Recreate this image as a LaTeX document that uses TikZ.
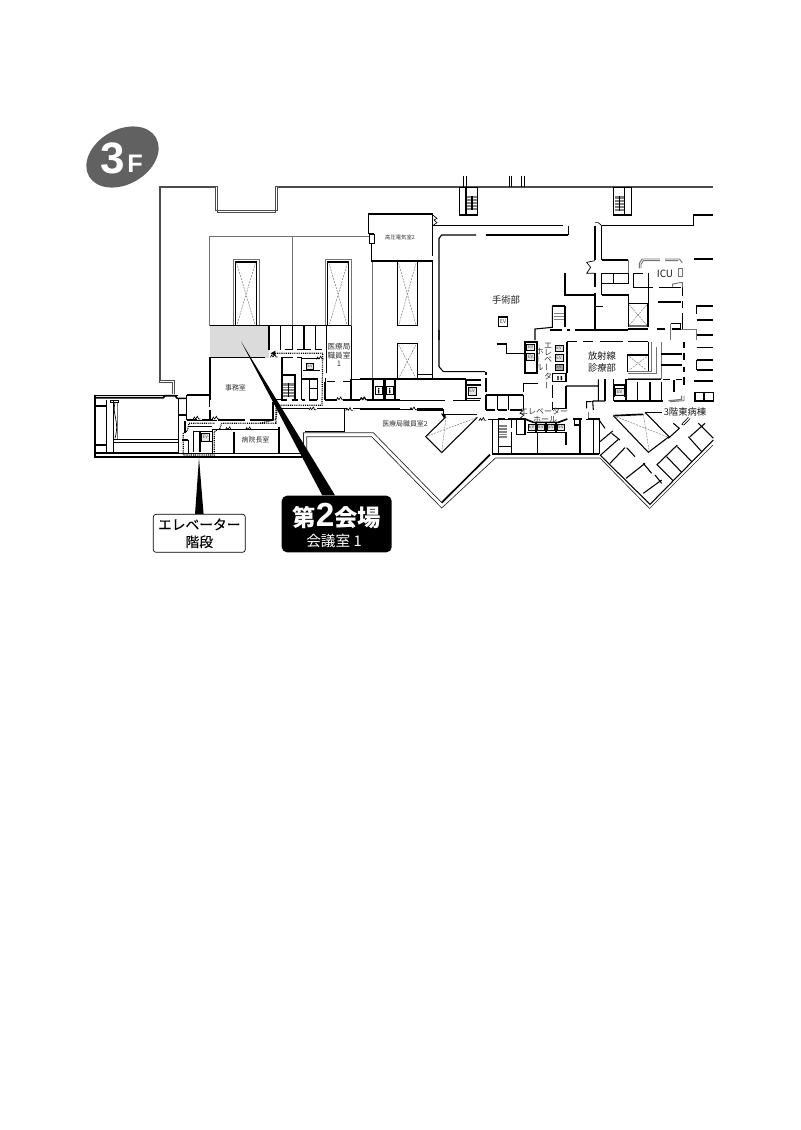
\documentclass[tikz,border=0pt]{standalone}
\usepackage{fontspec}
\setmainfont{Noto Sans CJK JP}
\newfontfamily\latinbold{Liberation Sans}[BoldFont={Liberation Sans Bold}]
\newfontfamily\medium{Noto Sans CJK JP}[FakeBold=0.35]
\usetikzlibrary{positioning,shapes.geometric,calc}
\newcommand{\tatebar}{\rotatebox[origin=c]{90}{ー}}
\newcommand{\stairrun}[4]{
    \fill[stairs] (#1,#2) rectangle (#3,#4);
    \foreach \t in {.2,.4,.6,.8}
        \draw[white, line width=0.3pt] ($(#1,#2)!\t!(#1,#4)$) -- ($(#3,#2)!\t!(#3,#4)$);
}
\tikzset{
    area/.style 2 args = {shift={(#1,#2)}, x=0.25pt, y=-0.25pt},
    outerwall/.style = {draw=black!70, line width=0.5pt},
    wingwall/.style = {draw=black!85, line width=0.5pt},
    wall/.style = {draw=black, line width=0.8pt},
    heavy/.style = {draw=black, line width=1.25pt},
    thinwall/.style = {draw=black, line width=0.5pt},
    gline/.style = {draw=black!55, line width=0.7pt},
    xline/.style = {draw=black!55, line width=0.35pt, dash pattern=on 1.5pt off 0.8pt},
    route/.style = {draw=black, line width=0.9pt, dash pattern=on 0.7pt off 0.7pt},
    roomtext/.style = {text=black!80, font=\fontsize{5.2pt}{6pt}\selectfont, inner sep=0pt, align=center},
    bigroom/.style = {text=black!90, font=\fontsize{7pt}{8.6pt}\selectfont, inner sep=0pt, align=center},
    evbox/.style = {draw=black, line width=0.5pt, fill=black!10, text=black!70, inner sep=0pt,
        minimum width=6.2pt, minimum height=5pt, font=\fontsize{3.4pt}{4pt}\selectfont},
    door/.pic = {\draw[thinwall] (-11,0) -- (-7,-7) -- (-3,-1) -- (2,-9) -- (6,-1) -- (11,-1);},
    stairs/.style = {fill=black!50, draw=none}
}
\begin{document}
\begin{tikzpicture}[x=0.75pt, y=-0.75pt]
    \useasboundingbox (0,0) rectangle (800,1130);

    % floor badge
    \node [ellipse, fill=black!62, inner sep=0pt,
        minimum width=58pt, minimum height=41pt, rotate=30] (badge) at (122.5,157) {};
    \node [text=white, inner sep=0pt, font=\latinbold\bfseries\fontsize{33pt}{33pt}\selectfont] (three) at (112.5,158) {3};
    \node [text=white, inner sep=0pt, font=\latinbold\bfseries\fontsize{19pt}{19pt}\selectfont] (floorf) at (135,164) {F};

    % gray room
    \fill[black!14] (210,326) rectangle (268.5,357.5);

    % outer walls
    \draw[outerwall] (172,394) -- (172,382.5) -- (159,382.5) -- (159,186) -- (217.5,186) -- (217.5,212.5)
        -- (275.5,212.5) -- (275.5,186) -- (713,186);
    \draw[outerwall] (174,394) -- (174,380.8) -- (160.8,380.8) -- (160.8,187.8) -- (215.8,187.8) -- (215.8,210.8)
        -- (277.2,210.8) -- (277.2,187.8) -- (713,187.8);
    \draw[wingwall] (303.5,453) -- (303.5,432.7) -- (373.3,432.7) -- (441.7,502.7);
    \draw[wingwall] (306.7,453) -- (306.7,436.7) -- (371.7,436.7) -- (441.7,508) -- (495.5,458) -- (600,458)
        -- (649.5,508.5) -- (713,445);

    \begin{scope}[area={80}{120}]
        \draw[gline] (388,617) -- (388,348) -- (868,348);
        \draw[gline] (637,348) -- (637,617);
        \draw[gline] (459,617) -- (459,417) -- (538,417) -- (538,617);
        \draw[gline] (735,617) -- (735,417) -- (814,417) -- (814,617);
        \draw[wall] (466,617) -- (466,426) -- (530,426) -- (530,617);
        \draw[wall] (743,617) -- (743,426) -- (806,426) -- (806,617);
        \draw[xline] (470,430) -- (526,617) (526,430) -- (470,617);
        \draw[xline] (747,430) -- (802,617) (802,430) -- (747,617);
    \end{scope}

    \begin{scope}[area={80}{320}]
        \draw[wall] (390,17) -- (814,17);
        % stalls
        \foreach \sx in {567,602,637,672,706} {\draw[wall] (\sx,17) -- (\sx,90);}
        \draw[wall] (614,88) -- (637,88) (652,88) -- (692,88) (706,88) -- (727,88);
        \draw[wall] (390,112) -- (555,112);
        \draw[wall] (814,17) -- (814,178);
        % left block
        \draw[thinwall] (45,225) -- (295,225);
        \draw[heavy] (45,233) -- (250,233) -- (255,227) -- (285,227) -- (292,235) -- (320,235);
        \draw[wall] (45,225) -- (45,411) -- (665,411);
        \draw[heavy] (45,398) -- (295,398);
        \draw[thinwall] (295,400) -- (665,400);
        \draw[wall] (45,258) -- (80,258) (45,375) -- (80,375);
        \draw[wall] (80,240) -- (80,398) (100,240) -- (100,398) (295,235) -- (295,398);
        \draw[thinwall] (92,240) rectangle (115,248);
        \draw[thinwall] (105,248) .. controls (95,285) and (120,300) .. (105,355);
        \draw[gline] (113,248) -- (113,358) -- (100,358);
        \draw[thinwall] (100,358) -- (295,358) (100,368) -- (295,368);
        \draw[wall] (295,285) -- (320,285) (320,225) -- (388,225) (320,225) -- (320,300);
        \draw[wall] (388,225) -- (388,262);
        \draw[wall] (390,112) -- (390,240) (390,270) -- (390,300);
        \draw[wall] (320,300) -- (350,300) (365,300) -- (398,300) (415,300) -- (495,300) (510,300) -- (578,300);
        \draw[heavy] (578,245) -- (578,300);
        \draw[wall] (584,238) -- (606,238) (606,112) -- (606,238);
        % corridor
        \draw[wall] (597,265) -- (688,265) (712,265) -- (800,265) (820,265) -- (960,265);
        \draw[thinwall] (793,265) -- (793,335) -- (675,335);
        \draw[wall] (814,178) -- (960,178);
        \draw[wall] (735,240) -- (770,240) (790,240) -- (840,240) (860,240) -- (960,240);
        \draw[wall] (735,185) -- (735,240);
        \draw[wall] (740,185) -- (765,185) (790,185) -- (812,185);
        \draw[wall] (880,178) -- (880,240) (912,178) -- (912,240) (945,178) -- (945,240);
        \draw[gline] (878,0) -- (878,178);
        \draw[wall] (597,320) -- (597,400);
        \draw[wall] (462,335) -- (462,398);
        \path (350,298) pic {door} (407,298) pic {door} (447,330) pic {door} (507,330) pic {door}
            (698,270) pic {door} (808,272) pic {door} (780,240) pic {door} (850,240) pic {door};
    \end{scope}

    \begin{scope}[area={175}{390}]
        \draw[wall] (35,92) -- (125,92) (115,118) -- (315,118);
        \draw[wall] (40,110) -- (110,110) (55,125) -- (55,185) (55,125) -- (110,125) (75,125) -- (75,185);
        \draw[wall] (75,155) -- (110,155) (40,150) -- (40,188) (20,150) -- (40,150) (113,118) -- (113,188);
        \draw[wall] (30,92) -- (30,130);
        \node[evbox, minimum width=6pt, minimum height=5.5pt] (evwest) at (91,142) {EV};
        \draw[route] (303,55) -- (303,100) -- (140,100) (118,100) -- (42,100) -- (37,122) -- (25,130) -- (25,195)
            -- (118,195) -- (118,125) -- (135,115) -- (140,100);
    \end{scope}

    \begin{scope}[area={260}{320}]
        \draw[wall] (62,112) -- (100,112) (112,112) -- (125,112);
        \draw[wall] (65,165) -- (105,165) -- (105,240);
        \draw[wall] (125,115) -- (125,240) (125,115) -- (180,115) (128,152) -- (180,152) (125,177) -- (175,177);
        \draw[wall] (148,177) -- (148,240) (148,205) -- (175,205) (172,177) -- (172,240);
        \stairrun{68}{190}{102}{230}
        \draw[wall] (85,190) -- (85,232);
        \draw[wall] (62,240) -- (80,240) (95,240) -- (115,240) (125,240) -- (135,240) (148,240) -- (172,240);
        \node[evbox, minimum width=5.6pt, minimum height=4.5pt] (evstall) at (150,138) {EV};
        \draw[wall] (200,18) -- (200,160) (197,175) -- (197,242) (197,242) -- (232,242) (250,242) -- (273,242);
        \draw[wall] (273,178) -- (273,242);
        \draw[route] (45,100) -- (188,100) -- (186,256) -- (52,256) -- (48,298) -- (0,310);
        \fill (32,100) -- (46,92) -- (46,108) -- cycle;
        \path (42,112) pic {door} (180,118) pic {door};
    \end{scope}

    \begin{scope}[area={360}{170}]
        \foreach \wx in {309,320,447,455,484,492} {\draw[thinwall] (\wx,17) -- (\wx,50);}
        \draw[wall] (298,52) rectangle (352,135);
        \draw[wall] (318,52) -- (318,135);
        \stairrun{322}{77}{352}{120}
        \draw[wall] (336,77) -- (336,120);
        \draw[wall] (218,132) -- (25,132) -- (25,192) (43,192) -- (43,220) -- (28,220) -- (28,192) -- (43,192);
        \draw[wall] (34,220) -- (34,273);
        \draw[heavy] (34,273) -- (218,273);
        \draw[wall] (218,132) -- (218,258);
        \draw[thinwall] (218,135) -- (231,145) -- (222,150) -- (231,158) -- (218,167);
        \draw[wall] (218,167) -- (610,167);
        \draw[wall] (348,195) -- (245,195) -- (237,205) -- (237,510);
        \draw[wall] (377,195) -- (624,195);
        \draw[gline] (38,276) -- (38,510);
        \draw[wall] (218,276) -- (218,510);
        \draw[wall] (112,467) -- (112,276) (172,276) -- (172,467) (112,467) -- (172,467);
        \draw[xline] (116,280) -- (168,465) (168,280) -- (116,465);
        \draw[wall] (416,441) rectangle (442,469);
        \node[text=black!75, font=\fontsize{4pt}{4pt}\selectfont, inner sep=0pt] (evope) at (429,455) {EV};
        \draw[wall] (577,407) -- (600,407) (577,407) -- (577,472) -- (525,477) -- (525,510);
    \end{scope}

    \begin{scope}[area={550}{170}]
        \draw[wall] (190,52) rectangle (245,135);
        \draw[wall] (223,52) -- (223,135);
        \stairrun{195}{78}{222}{122}
        \draw[wall] (208,78) -- (208,122);
        \draw[wall] (55,167) -- (55,195);
        \draw[wall] (155,167) -- (430,167) -- (430,135) -- (490,135);
        \draw[wall] (135,167) -- (135,270) (155,167) -- (155,270);
        \draw[thinwall] (135,158) -- (145,158) -- (155,167);
        \draw[wall] (155,270) -- (235,270);
        \draw[thinwall] (135,272) -- (110,277) -- (122,292) -- (110,310) -- (135,310);
        \draw[wall] (135,310) -- (135,350) (135,370) -- (135,478);
        \draw[gline] (235,270) -- (235,310);
        \draw[wall] (155,310) rectangle (235,340);
        \draw[wall] (190,310) -- (190,340) (155,340) -- (155,375);
        \draw[wall] (250,310) -- (250,352) -- (310,352) (250,310) -- (278,310) (295,310) -- (295,400);
        \draw[wall] (45,310) -- (45,375) -- (135,375) (155,375) -- (235,375) -- (235,470);
        \draw[wall] (137,410) -- (158,410) (137,410) -- (137,480);
        \draw[wall] (234,400) -- (294,400) (294,400) -- (294,470) (234,470) -- (294,470);
        \fill[black!55] (236,465) rectangle (292,472);
        \draw[xline] (238,405) -- (290,465) (290,405) -- (238,465);
        \draw[wall] (50,480) -- (60,480) (75,480) -- (235,480) (235,477) -- (295,477) (320,477) -- (345,477);
        \draw[wall] (328,353) -- (392,353) (325,396) -- (392,396);
        \draw[wall] (397,352) -- (397,378) (397,392) -- (397,415) (397,430) -- (397,480);
        \draw[wall] (362,460) -- (392,460) (392,460) -- (392,477) (365,477) -- (392,477);
        \draw[gline] (268,295) -- (268,280) -- (276,267) -- (330,267);
        \draw[gline] (273,295) -- (273,283) -- (280,272) -- (330,272);
        \draw[gline] (345,267) -- (388,267) -- (397,278) (345,272) -- (385,272);
        \draw[gline] (385,295) rectangle (397,320);
        \draw[gline] (368,350) -- (368,342) -- (390,338) -- (397,338) -- (397,352);
        \draw[gline] (362,462) -- (362,510) (392,477) -- (440,477) -- (440,510);
        \draw[wall] (432,267) -- (490,267);
        \draw[wall] (490,408) -- (440,408) -- (440,432) (440,450) -- (490,450) (440,495) -- (490,495);
        % stair beside the theatre
        \draw[wall] (8,408) -- (45,408) (45,408) -- (45,470) (8,408) -- (8,470);
        \stairrun{12}{428}{42}{450}
        \draw[wall] (0,480) -- (35,480);
    \end{scope}

    \begin{scope}[area={360}{330}]
        \draw[wall] (112,147) -- (112,40) -- (172,40) -- (172,147);
        \draw[xline] (116,44) -- (168,145) (168,44) -- (116,145);
        \draw[thinwall] (172,133) -- (218,133);
        \draw[wall] (218,0) -- (218,147);
        \draw[wall] (237,0) -- (237,110) -- (250,125) -- (375,125);
        \draw[wall] (0,147) -- (318,147);
        \draw[wall] (38,147) -- (38,212) (72,147) -- (72,212) (75,147) -- (75,212) (103,147) -- (103,212);
        \draw[wall] (318,147) -- (318,212);
        \draw[wall] (322,165) -- (362,165) (322,205) -- (362,205);
        \draw[wall] (103,212) -- (255,212) (280,212) -- (360,212);
        \draw[wall] (322,150) -- (362,150);
        \draw[wall] (0,238) -- (155,238) (172,240) -- (250,240) -- (250,253);
        \draw[wall] (250,253) -- (350,253) (385,268) -- (470,268);
        \draw[thinwall] (172,235) -- (250,235);
        \fill (243,250) -- (258,254) -- (252,265) -- cycle;
        \draw[wall] (258,260) -- (197,320) -- (245,368) -- (352,262);
        \draw[xline] (197,320) -- (352,262) (245,368) -- (258,262);
        \draw[heavy] (245,518) -- (390,374);
        \path (160,240) pic {door} (368,272) pic {door} (12,210) pic {door};
        \node[evbox, minimum width=6pt, minimum height=5.4pt] (evsouth) at (336,184) {EV};
        \node[draw=black, line width=0.4pt, inner sep=0pt, minimum width=5.5pt, minimum height=6pt] (wca) at (56,182) {};
        \node[draw=black, line width=0.4pt, inner sep=0pt, minimum width=5.5pt, minimum height=6pt] (wcb) at (89,182) {};
        \fill (56,176) circle (2.5) (89,176) circle (2.5);
        \fill (54,179) rectangle (58,190) (87,179) rectangle (91,190);
        \draw[wall] (378,125) -- (378,135) (378,145) -- (378,185) (378,195) -- (378,240);
        \draw[wall] (378,195) -- (490,195) (412,195) -- (412,240) (445,195) -- (445,240) (490,195) -- (490,240);
        \draw[wall] (378,240) -- (405,240) (415,240) -- (440,240) (450,240) -- (485,240);
        \draw[wall] (410,42) -- (440,42) -- (440,70) -- (495,70);
        \draw[heavy] (495,35) rectangle (530,128);
        \node[evbox, minimum width=6pt, minimum height=5pt] (evnw) at (512,52) {EV};
        \node[evbox, minimum width=6pt, minimum height=5pt] (evnx) at (512,80) {EV};
        \draw[wall] (490,160) -- (535,160) (490,160) -- (490,185);
    \end{scope}

    \begin{scope}[area={480}{395}]
        \draw[wall] (38,72) -- (38,180) (55,72) -- (55,180) (55,72) -- (75,72) (85,72) -- (108,72);
        \stairrun{58}{90}{82}{130}
        \draw[wall] (95,72) -- (95,100) (95,110) -- (95,178);
        \draw[wall] (55,155) -- (95,155);
        \draw[wall] (110,72) rectangle (135,118);
        \draw[heavy] (135,72) -- (160,82) -- (235,82) -- (262,72);
        \draw[heavy] (140,112) -- (258,112);
        \foreach \ex in {168,198,228} {\draw[wall] (\ex,82) -- (\ex,112);}
        \node[evbox, minimum width=5.5pt, minimum height=5pt] (evha) at (155,97) {EV};
        \node[evbox, minimum width=5.5pt, minimum height=5pt] (evhb) at (183,97) {EV};
        \node[evbox, minimum width=5.5pt, minimum height=5pt] (evhc) at (213,97) {EV};
        \node[evbox, minimum width=5.5pt, minimum height=5pt] (evhd) at (243,97) {EV};
        \draw[wall] (172,112) -- (172,178) (258,112) -- (258,150);
        \draw[wall] (280,72) -- (305,72) (283,72) -- (283,90) -- (300,90) (300,72) -- (300,178);
        \draw[gline] (325,50) -- (325,72);
        \draw[wall] (325,72) -- (360,72);
        \draw[heavy] (340,72) -- (340,178);
        \draw[wall] (358,72) -- (358,178);
        \draw[wall] (38,177) -- (358,177);
        \draw[thinwall] (130,45) -- (120,55) -- (132,60) -- (120,70);
    \end{scope}

    \begin{scope}[area={550}{330}]
        \draw[heavy] (50,35) -- (50,130);
        \draw[wall] (50,35) -- (80,35) (100,35) -- (130,35) (150,35) -- (220,35) (235,35) -- (295,35);
        \node[evbox, minimum width=6pt, minimum height=5pt] (evea) at (27,55) {EV};
        \node[evbox, minimum width=6pt, minimum height=5pt] (eveb) at (27,84) {EV};
        \node[evbox, minimum width=6pt, minimum height=5pt, fill=black!35] (evec) at (27,112) {EV};
        \draw[wall] (8,130) rectangle (48,155);
        \fill (22,138) rectangle (26,150) (32,138) rectangle (36,150);
        \draw[wall] (8,165) -- (8,205) (8,215) -- (8,240) (48,168) -- (48,235) -- (10,235);
        \draw[wall] (48,168) -- (145,168) (145,148) -- (145,210) (128,213) -- (165,213) (128,213) -- (130,240);
        \draw[wall] (295,35) -- (295,75);
        \draw[wall] (233,75) rectangle (295,125);
        \draw[xline] (238,80) -- (290,120) (290,80) -- (238,120);
        \draw[gline] (333,35) -- (333,145) -- (235,145) (320,50) -- (320,130) -- (235,130) (305,35) -- (305,125) -- (235,125);
        \draw[heavy] (228,148) -- (333,148);
        \draw[wall] (333,72) -- (395,72) (333,105) -- (395,105) (340,148) -- (360,148) (378,148) -- (395,148);
        \draw[wall] (402,35) -- (402,55) (402,70) -- (402,90) (402,110) -- (402,125) (402,140) -- (402,165);
        \draw[wall] (165,148) -- (165,213) (190,148) -- (190,213) (228,148) -- (228,213) (263,155) -- (263,213)
            (300,155) -- (300,213) (335,155) -- (335,213);
        \draw[wall] (193,213) -- (228,213) (228,213) -- (340,213);
        \draw[wall] (193,165) -- (225,165) (193,165) -- (193,200) (223,165) -- (223,200);
        \node[evbox, minimum width=6.4pt, minimum height=5.5pt] (evsw) at (209,185) {EV};
        \draw[wall] (372,150) -- (372,185);
        \draw[gline] (355,212) -- (395,208) -- (395,197) (360,215) -- (402,212) -- (402,197);
        \draw[wall] (440,15) -- (490,15) (440,52) -- (490,52) (440,90) -- (490,90) (440,90) -- (440,120) (440,120) -- (490,120);
        \draw[heavy] (432,152) -- (490,152);
        \draw[wall] (435,188) rectangle (490,213) (462,188) -- (462,213);
        \draw[thinwall] (395,283) -- (415,262) (402,285) -- (420,266) (395,283) -- (402,285);
    \end{scope}

    \begin{scope}[area={590}{395}]
        % wing rooms
        \draw[wall] (-10,40) -- (-10,20) -- (5,20) (25,72) -- (45,100) (65,115) -- (90,135) (110,158) -- (135,185)
            (160,205) -- (185,235) (195,240) -- (215,265);
        \draw[wall] (30,140) -- (68,108) (32,180) -- (85,133) (60,205) -- (105,158) (108,250) -- (165,205)
            (160,295) -- (215,255);
        \draw[wall] (30,180) -- (180,328) -- (370,135);
        \draw[wall] (200,210) -- (262,150) (202,210) -- (250,258) (230,185) -- (275,232) (262,155) -- (305,200)
            (295,125) -- (335,170) (325,85) -- (370,130) (235,130) -- (268,100) -- (250,85) (300,125) -- (345,85);
        \draw[thinwall] (-12,72) -- (25,72);
        % east shaft
        \draw[wall] (70,62) -- (175,172) -- (237,125) -- (165,52);
        \draw[heavy] (70,62) -- (160,58);
        \draw[heavy] (165,52) -- (215,52);
        \draw[xline] (70,62) -- (230,125) (160,58) -- (178,172);
    \end{scope}

    % room names
    \node [roomtext] (jimu) at (235.5,388) {事務室};
    \node [roomtext, font=\fontsize{5.7pt}{6.6pt}\selectfont] (ikyoku1) at (339,355) {医療局\\職員室\\1};
    \node [roomtext] (byoincho) at (255.5,440) {病院長室};
    \node [roomtext] (ikyoku2) at (405,423.5) {医療局職員室2};
    \node [roomtext, font=\fontsize{4pt}{4pt}\selectfont] (koatsu) at (400,237) {高圧電気室2};
    \node [bigroom] (shujutsu) at (506,300) {手術部};
    \node [bigroom] (hoshasen) at (602,362) {放射線\\診療部};
    \node [bigroom, font=\fontsize{7.5pt}{8pt}\selectfont] (icu) at (665,273.5) {ICU};
    \node [bigroom, fill=white, inner xsep=1pt] (higashi) at (685,411.5) {3階東病棟};
    \node [roomtext, font=\fontsize{6pt}{5.3pt}\selectfont] (hallv) at (548,366) {エ\\レ\\ベ\\\tatebar\\タ\\\tatebar};
    \node [roomtext, font=\fontsize{6pt}{5.3pt}\selectfont] (hallw) at (539.5,359.5) {ホ\\\tatebar\\ル};
    \node [roomtext, font=\fontsize{6pt}{6pt}\selectfont] (hallh) at (544,411) {エレベーター};
    \node [roomtext, font=\fontsize{6pt}{6pt}\selectfont] (hallo) at (545,419) {ホール};

    % call-outs
    \node [draw=black, line width=0.5pt, rounded corners=2pt, fill=white, minimum width=69pt, minimum height=28.5pt,
        inner sep=0pt, align=center, font=\medium\fontsize{10.3pt}{13pt}\selectfont] (elevbox) at (199.3,533.3) {エレベーター\\階段};
    \node [fill=black, rounded corners=4pt, text=white, minimum width=82.5pt, minimum height=42.5pt, inner sep=0pt]
        (hallbox) at (336.7,524) {};
    \node [text=white, inner sep=0pt, font=\bfseries\fontsize{17.5pt}{18pt}\selectfont] (second) at (336.7,516) {第{\latinbold\fontsize{25pt}{25pt}\selectfont 2}会場};
    \node [text=white, inner sep=0pt, font=\fontsize{11pt}{12pt}\selectfont] (kaigi) at (334,540.5) {会議室 1};
    \coordinate (elevtip) at (199,458);
    \coordinate (halltip) at (241,341.5);
    \fill (elevtip) -- ([xshift=-3.2pt]elevbox.north) -- ([xshift=3.2pt]elevbox.north) -- cycle;
    \fill (halltip) -- ([xshift=-10.8pt]hallbox.north) -- ([xshift=-1.2pt]hallbox.north) -- cycle;
\end{tikzpicture}
\end{document}
